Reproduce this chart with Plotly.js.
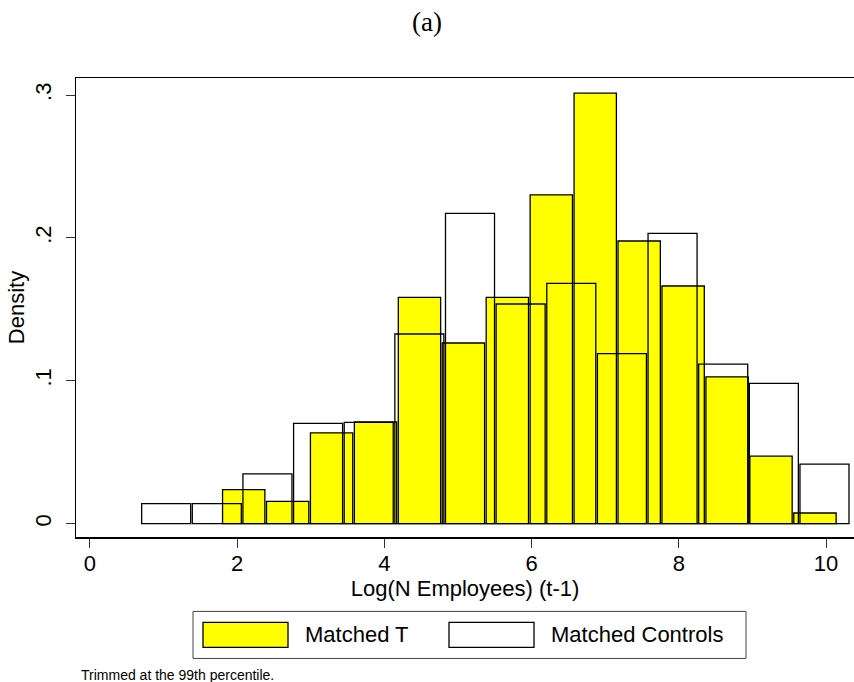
<!DOCTYPE html>
<html>
<head>
<meta charset="utf-8">
<script src="https://cdn.plot.ly/plotly-3.0.1.min.js"></script>
<style>html,body{margin:0;padding:0;background:#fff;}#chart{width:854px;height:682px;}</style>
</head>
<body>
<div id="chart"></div>
<script>
// Histogram bins (log employees, t-1)
const treatedBinStart = 1.79;
const treatedBinWidth = 0.597;
const treatedDensity = [0.0238, 0.0156, 0.0635, 0.0712, 0.1584, 0.1264, 0.1584, 0.2301, 0.3013, 0.1978, 0.1663, 0.1027, 0.0472, 0.0074];

const controlBinStart = 0.691;
const controlBinWidth = 0.688;
const controlDensity = [0.0140, 0.0140, 0.0348, 0.0701, 0.0708, 0.1327, 0.2172, 0.1537, 0.1682, 0.1189, 0.2032, 0.1116, 0.0981, 0.0416];

const xTickVals = [0, 2, 4, 6, 8, 10];
const xTickText = ['0', '2', '4', '6', '8', '10'];
const yTickVals = [0, 0.1, 0.2, 0.3];
const yTickText = ['0', '.1', '.2', '.3'];

const seriesNames = ['Matched T', 'Matched Controls'];

function centers(start, w, n) { const c = []; for (let i = 0; i < n; i++) c.push(start + w * (i + 0.5)); return c; }
const gap = 0.022;

const tr1 = {
  type: 'bar', name: seriesNames[0],
  x: centers(treatedBinStart, treatedBinWidth, treatedDensity.length),
  y: treatedDensity,
  width: treatedDensity.map(() => treatedBinWidth - gap),
  marker: {color: '#ffff00', line: {color: '#000', width: 1.3}},
  showlegend: false, hoverinfo: 'skip'
};
const tr2 = {
  type: 'bar', name: seriesNames[1],
  x: centers(controlBinStart, controlBinWidth, controlDensity.length),
  y: controlDensity,
  width: controlDensity.map(() => controlBinWidth - gap),
  marker: {color: 'rgba(0,0,0,0)', line: {color: '#000', width: 1.3}},
  showlegend: false, hoverinfo: 'skip'
};

const L = 76, T = 78.3, R = 854, B = 536.7;
const PW = R - L, PH = B - T;
function px(x) { return (x - L) / PW; }
function py(y) { return (B - y) / PH; }

const font = 'Liberation Sans, Arial, Helvetica, sans-serif';

const shapes = [
  {type: 'rect', xref: 'paper', yref: 'paper', x0: px(193), x1: px(746), y0: py(658), y1: py(611), line: {color: '#444', width: 1}, fillcolor: '#fff', layer: 'above'},
  {type: 'rect', xref: 'paper', yref: 'paper', x0: px(203), x1: px(288), y0: py(647), y1: py(622), line: {color: '#000', width: 1.3}, fillcolor: '#ffff00', layer: 'above'},
  {type: 'rect', xref: 'paper', yref: 'paper', x0: px(449), x1: px(534), y0: py(647), y1: py(622), line: {color: '#000', width: 1.3}, fillcolor: '#fff', layer: 'above'}
];

const annotations = [
  {xref: 'paper', yref: 'paper', x: px(303), y: py(634), xanchor: 'left', yanchor: 'middle', text: seriesNames[0], showarrow: false, font: {family: font, size: 22, color: '#000'}},
  {xref: 'paper', yref: 'paper', x: px(549), y: py(634), xanchor: 'left', yanchor: 'middle', text: seriesNames[1], showarrow: false, font: {family: font, size: 22, color: '#000'}},
  {xref: 'paper', yref: 'paper', x: px(79), y: py(675), xanchor: 'left', yanchor: 'middle', text: 'Trimmed at the 99th percentile.', showarrow: false, font: {family: font, size: 14, color: '#000'}}
];

const layout = {
  width: 854, height: 682,
  margin: {l: L, r: 0, t: T, b: 682 - B, pad: 0},
  paper_bgcolor: '#fff', plot_bgcolor: '#fff',
  barmode: 'overlay',
  showlegend: false,
  title: {text: '(a)', x: 0.5, xref: 'container', y: 1 - 22 / 682, yref: 'container', xanchor: 'center', yanchor: 'middle', font: {family: 'Liberation Serif, DejaVu Serif, serif', size: 27, color: '#000'}},
  xaxis: {
    range: [-0.19, 10.38], tickvals: xTickVals, ticktext: xTickText,
    ticks: 'outside', ticklen: 9, tickwidth: 1, tickcolor: '#333',
    ticklabelstandoff: -3,
    showline: true, linecolor: '#000', linewidth: 1.5, mirror: true,
    showgrid: false, zeroline: false,
    tickfont: {family: font, size: 22, color: '#000'},
    title: {text: 'Log(N Employees) (t-1)', font: {family: font, size: 22, color: '#000'}, standoff: 0}
  },
  yaxis: {
    range: [-0.0094, 0.3119], tickvals: yTickVals, ticktext: yTickText,
    ticks: 'outside', ticklen: 9, tickwidth: 1, tickcolor: '#333', tickangle: -90,
    ticklabelstandoff: 6,
    showline: true, linecolor: '#000', linewidth: 1.5, mirror: false,
    showgrid: false, zeroline: false,
    tickfont: {family: font, size: 22, color: '#000'},
    title: {text: 'Density', font: {family: font, size: 22, color: '#000'}, standoff: 0}
  },
  shapes: shapes,
  annotations: annotations
};

Plotly.newPlot('chart', [tr1, tr2], layout, {displayModeBar: false, staticPlot: true});
</script>
</body>
</html>
